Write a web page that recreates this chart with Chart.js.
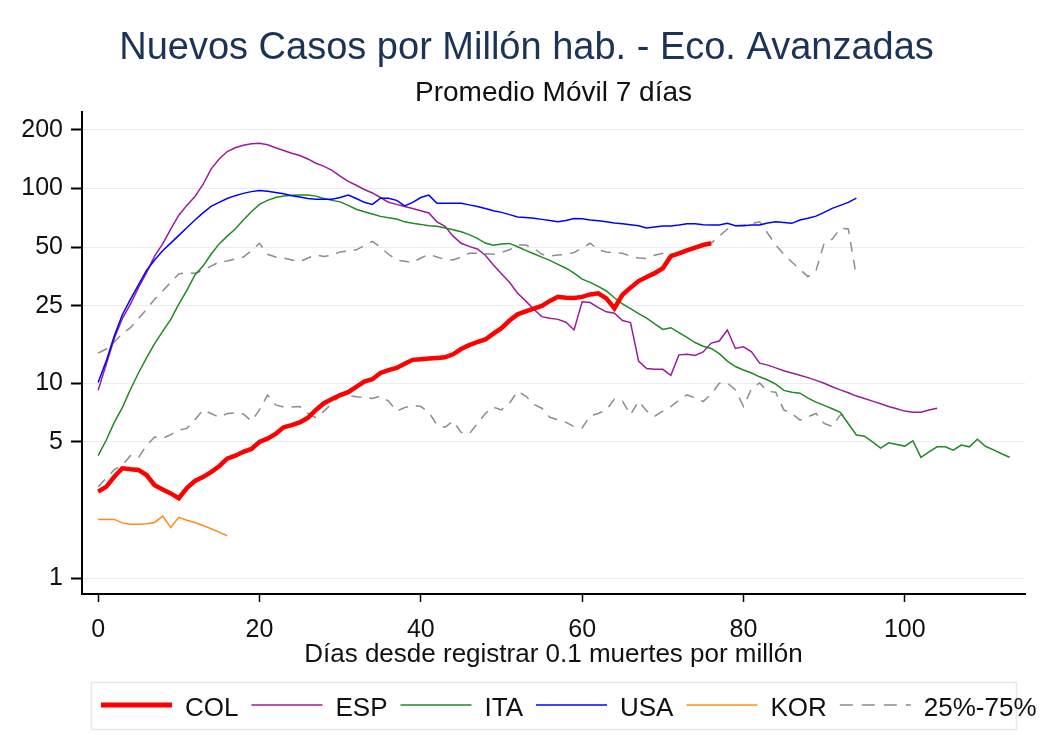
<!DOCTYPE html>
<html>
<head>
<meta charset="utf-8">
<script src="https://cdn.jsdelivr.net/npm/chart.js@4/dist/chart.umd.min.js"></script>
<style>
  html, body { margin: 0; padding: 0; background: #fff; }
  #grafico { display: block; }
</style>
</head>
<body>
<canvas id="grafico" width="1053" height="735"></canvas>
<script>
// Días desde registrar 0.1 muertes por millón (índice = día)
var dias = [
  0, 1, 2, 3, 4, 5, 6, 7, 8, 9, 10, 11, 12, 13, 14, 15, 16, 17, 18, 19,
  20, 21, 22, 23, 24, 25, 26, 27, 28, 29, 30, 31, 32, 33, 34, 35, 36, 37, 38, 39,
  40, 41, 42, 43, 44, 45, 46, 47, 48, 49, 50, 51, 52, 53, 54, 55, 56, 57, 58, 59,
  60, 61, 62, 63, 64, 65, 66, 67, 68, 69, 70, 71, 72, 73, 74, 75, 76, 77, 78, 79,
  80, 81, 82, 83, 84, 85, 86, 87, 88, 89, 90, 91, 92, 93, 94, 95, 96, 97, 98, 99,
  100, 101, 102, 103, 104, 105, 106, 107, 108, 109, 110, 111, 112, 113
];

var col = [
  2.78, 2.94, 3.31, 3.66, 3.62, 3.59, 3.38, 3.0, 2.85, 2.72,
  2.57, 2.9, 3.15, 3.3, 3.5, 3.75, 4.1, 4.25, 4.45, 4.6,
  5.0, 5.2, 5.5, 5.95, 6.1, 6.3, 6.65, 7.3, 7.9, 8.3,
  8.7, 9.0, 9.6, 10.2, 10.5, 11.3, 11.7, 12.0, 12.6, 13.2,
  13.3, 13.4, 13.5, 13.6, 14.1, 15.0, 15.7, 16.3, 16.8, 18.0,
  19.2, 21.0, 22.6, 23.4, 24.2, 25.0, 26.5, 27.8, 27.5, 27.4,
  27.8, 28.6, 29.0, 27.3, 24.3, 28.5, 31.0, 33.5, 35.2, 36.8,
  39.0, 45.0, 46.5, 48.2, 49.8, 51.3, 52.4
];

var esp = [
  9.2, 12.5, 17.0, 21.5, 25.5, 31, 37, 45, 52, 62,
  73, 82, 91, 105, 126, 142, 155, 162, 167, 170,
  171, 168, 162, 157, 152, 148, 142, 135, 130, 124,
  116, 109, 104, 99, 95, 90, 85, 83, 81, 79,
  77, 75, 67.5, 64, 57, 52.4, 50.5, 49, 45.5, 40.5,
  36.5, 33, 29, 26.5, 24, 22, 21.6, 21.3, 20.6, 18.8,
  26.2, 26.0, 24.5, 23.3, 22.9, 21.0, 20.5, 13.0, 11.9, 11.8,
  11.8, 11.0, 14.0, 14.1, 13.9, 14.5, 16.1, 16.5, 18.8, 15.1,
  15.4, 14.5, 12.7, 12.4, 12.0, 11.6, 11.3, 11.0, 10.7, 10.35,
  10.0, 9.6, 9.25, 8.95, 8.6, 8.35, 8.1, 7.85, 7.6, 7.4,
  7.2, 7.1, 7.1, 7.3, 7.45
];

var ita = [
  4.25, 5.1, 6.3, 7.5, 9.3, 11.3, 13.5, 16.0, 18.5, 21.3,
  25.5, 30, 36, 40, 46, 52, 57, 62, 69, 76,
  83, 87, 90, 91.6, 92.5, 92.6, 92.6, 91.5, 89, 87,
  85.5, 82, 78.3, 76, 74, 72, 70.8, 69.8, 67.5, 66.3,
  65.5, 64.5, 64, 62.7, 61.5, 60, 58, 55.5, 52.5, 51.2,
  52, 52.3, 50.3, 48.2, 46.3, 44.5, 42.8, 40.8, 39, 36.8,
  34.3, 33, 31.5, 29.8, 27.5, 25.6, 24.2, 22.8, 21.6, 20.2,
  18.9, 19.3, 18.2, 17.2, 16.2, 15.5, 15.1, 14.2, 13.0, 12.2,
  11.7, 11.3, 10.8, 10.4, 9.9, 9.2, 9.0, 8.9, 8.4, 8.0,
  7.7, 7.4, 7.1, 6.2, 5.43, 5.35, 5.0, 4.65, 4.95, 4.85,
  4.76, 5.07, 4.17, 4.45, 4.72, 4.72, 4.54, 4.82, 4.72, 5.16,
  4.75, 4.55, 4.35, 4.17
];

var usa = [
  10.1, 13.0, 17.5, 22.5, 27, 32, 38, 43, 48, 52.5,
  57.5, 63, 69, 75, 81, 85, 89, 92, 94.5, 96.5,
  97.8, 97, 95.6, 94, 92, 90.5, 89, 88.2, 88.2, 88.2,
  90, 92.6, 89, 85, 83, 89.3, 89.3, 87, 81.5, 85,
  90, 92.6, 84, 84, 84, 84, 82.5, 81, 79, 77,
  75.5, 73.5, 71.5, 71, 70.4, 69.5, 68.5, 67.5, 68.5, 70.2,
  70, 69, 68.4, 67.5, 66.5, 66, 65.3, 64.5, 62.7, 63.5,
  64.3, 64.3, 65, 66, 66, 65.3, 65, 65, 66.3, 64.5,
  64.5, 65, 65, 66.5, 67.5, 67, 66.3, 69, 70.5, 72.2,
  75.5, 79.2, 82, 85, 89.3
];

var kor = [
  2.0, 2.0, 2.0, 1.92, 1.89, 1.89, 1.9, 1.93, 2.08, 1.82,
  2.05, 1.98, 1.93, 1.86, 1.79, 1.72, 1.65
];

// percentiles 25 y 75 de las economías avanzadas
var p75 = [
  14.3, 15.0, 16.3, 18.0, 19.3, 21.5, 24, 27, 29.8, 33,
  36.5, 37, 36.8, 38, 40, 42, 42.5, 43.5, 44.5, 48,
  52.4, 46, 44.5, 44, 43, 42.1, 44, 45.6, 44.8, 45.5,
  47.3, 47.8, 48.5, 51, 53.6, 50, 46, 43, 42.3, 41.7,
  44, 46, 44.5, 43.3, 43, 44.5, 46.5, 46.5, 46.3, 46,
  47, 48.5, 51.3, 51.3, 49.5, 46, 45, 45.6, 46, 47,
  49.5, 52.4, 48.5, 47.3, 46.8, 46.5, 45, 44, 43.8, 45.5,
  46.5, 46, 46.5, 47.6, 49, 50.6, 52.5, 57, 62, 64.5,
  65, 66, 67.5, 59, 51.3, 46, 42, 38.5, 35.3, 38,
  52.4, 55, 62.5, 62, 35.3
];

var p25 = [
  2.94, 3.25, 3.6, 3.8, 4.25, 4.15, 4.8, 5.3, 5.22, 5.45,
  5.75, 5.87, 6.5, 7.3, 7.0, 6.7, 7.0, 7.05, 6.96, 6.4,
  7.3, 8.7, 7.75, 7.55, 7.55, 7.6, 7.0, 6.65, 7.2, 7.9,
  8.6, 8.65, 8.53, 8.45, 8.37, 8.6, 8.1, 7.2, 7.5, 7.7,
  7.6, 7.1, 6.11, 5.95, 6.4, 5.6, 5.5, 6.2, 7.0, 7.55,
  7.3, 7.9, 9.1, 8.6, 7.8, 7.45, 6.69, 6.5, 6.3, 6.0,
  5.9, 6.8, 7.0, 7.3, 8.3, 8.1, 6.9, 8.1, 7.22, 6.78,
  7.2, 7.6, 8.2, 8.72, 8.4, 8.06, 8.8, 10.0, 10.05, 9.25,
  7.6, 9.4, 10.05, 9.1, 9.0, 7.3, 7.0, 6.47, 6.74, 7.0,
  6.23, 6.0, 6.87, 7.0
];

var xTicks = [0, 20, 40, 60, 80, 100];
var yTicks = [1, 5, 10, 25, 50, 100, 200];

var fuente = '"Liberation Sans", Arial, sans-serif';

function puntos(serie) {
  return serie.map(function (v, i) { return { x: dias[i], y: v }; });
}

function linea(label, serie, color, ancho, guion) {
  return {
    label: label,
    data: puntos(serie),
    borderColor: color,
    backgroundColor: color,
    borderWidth: ancho,
    borderDash: guion || [],
    pointRadius: 0,
    tension: 0,
    fill: false
  };
}

// el primero queda encima
var datasets = [
  linea('COL', col, '#ff0000', 4.5),
  linea('USA', usa, '#0000ff', 1.5),
  linea('ITA', ita, '#1f8a1f', 1.5),
  linea('ESP', esp, '#9b1b9b', 1.5),
  linea('KOR', kor, '#ff8c1a', 1.5),
  linea('25%-75%', p75, '#8c8c8c', 1.5, [10, 8]),
  linea('25%-75%', p25, '#8c8c8c', 1.5, [10, 8])
];

// orden de la leyenda (índices en datasets)
var leyenda = [0, 3, 2, 1, 4, 5];

/** Leyenda en caja, al pie */
var leyendaCaja = {
  id: 'leyendaCaja',
  afterDraw: function (chart) {
    var ctx = chart.ctx;
    ctx.save();
    ctx.strokeStyle = '#e2eaec';
    ctx.lineWidth = 1.5;
    ctx.strokeRect(91.5, 682.5, 925, 47);
    ctx.font = '26px ' + fuente;
    ctx.textBaseline = 'alphabetic';
    var x = 101, y = 705;
    leyenda.forEach(function (idx) {
      var ds = chart.data.datasets[idx];
      ctx.beginPath();
      ctx.strokeStyle = ds.borderColor;
      ctx.lineWidth = ds.borderWidth === 4.5 ? 5 : ds.borderWidth;
      ctx.setLineDash(ds.borderDash.length ? [13, 9] : []);
      ctx.moveTo(x, y);
      ctx.lineTo(x + 71, y);
      ctx.stroke();
      ctx.setLineDash([]);
      x += 71 + 13;
      ctx.fillStyle = '#111';
      ctx.fillText(ds.label, x, 716);
      x += ctx.measureText(ds.label).width + 13;
    });
    ctx.restore();
  }
};

var ctx = document.getElementById('grafico').getContext('2d');
var grafico = new Chart(ctx, {
  type: 'line',
  data: { datasets: datasets },
  plugins: [leyendaCaja],
  options: {
    responsive: false,
    animation: false,
    devicePixelRatio: 1,
    layout: { padding: { top: 0, right: 0, bottom: 65, left: 0 } },
    plugins: {
      legend: { display: false },
      tooltip: { enabled: false },
      title: {
        display: true,
        text: 'Nuevos Casos por Millón hab. - Eco. Avanzadas',
        color: '#1b3358',
        font: { family: fuente, size: 38, weight: 'normal' },
        padding: { top: 26, bottom: 5 }
      },
      subtitle: {
        display: true,
        fullSize: false,
        text: 'Promedio Móvil 7 días',
        color: '#111',
        font: { family: fuente, size: 28, weight: 'normal' },
        padding: { top: 0, bottom: 1.8 }
      }
    },
    scales: {
      x: {
        type: 'linear',
        min: -2,
        max: 114.9,
        afterBuildTicks: function (s) {
          s.ticks = xTicks.map(function (v) { return { value: v }; });
        },
        afterFit: function (s) { s.height = 76; },
        grid: {
          drawOnChartArea: false,
          drawTicks: true,
          tickLength: 8,
          tickWidth: 1.5,
          tickColor: '#000',
          color: '#000'
        },
        border: { display: true, color: '#000', width: 2 },
        ticks: {
          color: '#111',
          padding: 13,
          maxRotation: 0,
          font: { family: fuente, size: 25 }
        },
        title: {
          display: true,
          text: 'Días desde registrar 0.1 muertes por millón',
          color: '#111',
          font: { family: fuente, size: 26 },
          padding: { top: 0, bottom: 0 }
        }
      },
      y: {
        type: 'logarithmic',
        min: 0.828,
        max: 247.4,
        afterBuildTicks: function (s) {
          s.ticks = yTicks.map(function (v) { return { value: v }; });
        },
        afterFit: function (s) { s.width = 82; },
        grid: {
          color: '#e6eef0',
          lineWidth: 1,
          drawTicks: true,
          tickLength: 11,
          tickWidth: 2,
          tickColor: '#000'
        },
        border: { display: true, color: '#000', width: 2 },
        ticks: {
          color: '#111',
          padding: 8,
          font: { family: fuente, size: 25 },
          callback: function (v) { return String(v); }
        }
      },
      derecha: {
        type: 'linear',
        position: 'right',
        display: true,
        afterFit: function (s) { s.width = 28; },
        grid: { display: false, drawTicks: false },
        border: { display: false },
        ticks: { display: false }
      }
    }
  }
});
</script>
</body>
</html>
